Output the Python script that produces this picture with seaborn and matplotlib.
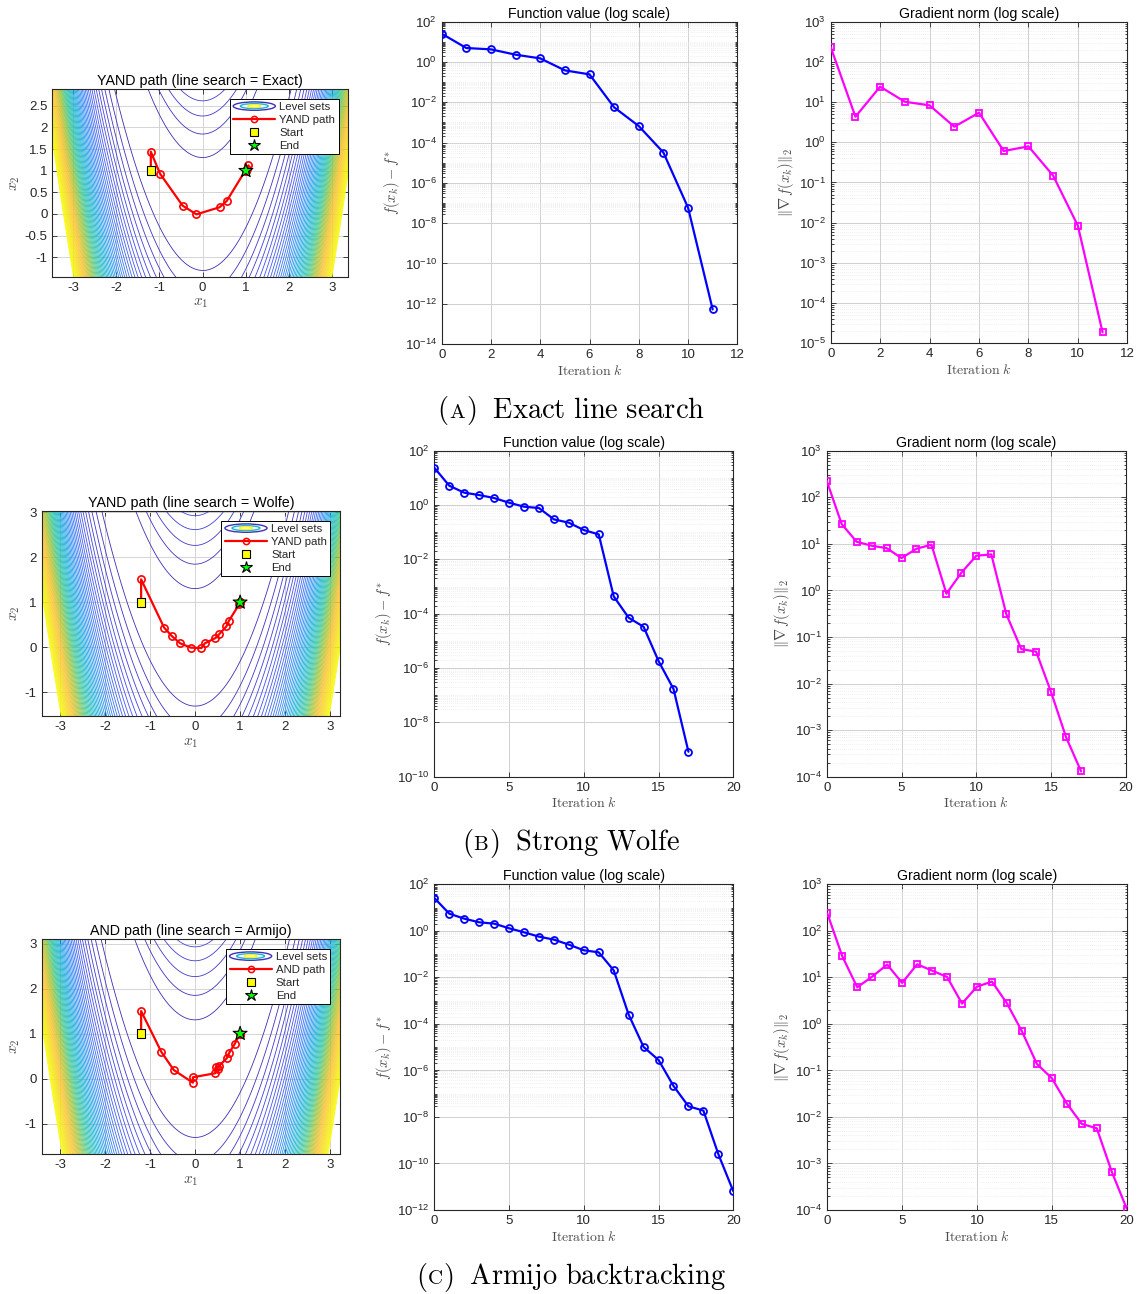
import numpy as np
import pandas as pd
import seaborn as sns
import matplotlib
matplotlib.use("Agg")
import matplotlib.pyplot as plt
from matplotlib.colors import LinearSegmentedColormap
from matplotlib.ticker import FixedLocator, NullFormatter, LogFormatterSciNotation
from matplotlib.lines import Line2D
from matplotlib.patches import Ellipse
from matplotlib.legend_handler import HandlerBase
from matplotlib.offsetbox import TextArea, HPacker, AnnotationBbox

# ------------------------------------------------------------------
# Iterates of the three runs on the Rosenbrock function
# ------------------------------------------------------------------
exact_x1 = [-1.2, -1.2, -0.985, -0.466, -0.145, 0.39, 0.557, 1.06, 1.024, 1.005, 1.0, 1.0]
exact_x2 = [1.0, 1.44, 0.93, 0.194, -0.008, 0.155, 0.302, 1.124, 1.049, 1.01, 1.0, 1.0]
exact_f = [25.4, 4.93, 4.24, 2.30, 1.51, 0.384, 0.243, 5.6e-3, 6.6e-4, 3.2e-5, 5.9e-8, 5.2e-13]
exact_g = [234, 4.33, 24.2, 10.2, 8.3, 2.44, 5.45, 0.607, 0.792, 0.148, 8.4e-3, 1.87e-5]

wolfe_x1 = [-1.2, -1.2, -0.689, -0.519, -0.333, -0.096, 0.141, 0.215, 0.452, 0.533,
            0.696, 0.748, 0.985, 0.998, 1.0, 1.0, 1.0, 1.0]
wolfe_x2 = [1.0, 1.51, 0.437, 0.252, 0.089, -0.007, -0.015, 0.089, 0.207, 0.289,
            0.467, 0.585, 0.965, 0.995, 1.0, 1.0, 1.0, 1.0]
wolfe_f = [23.7, 5.15, 2.85, 2.33, 1.81, 1.22, 0.87, 0.776, 0.297, 0.224, 0.120, 0.083,
           4.35e-4, 7.1e-5, 3.3e-5, 1.8e-6, 1.7e-7, 8.3e-10]
wolfe_g = [227, 26.6, 11.1, 9.1, 8.1, 4.95, 7.87, 9.58, 0.849, 2.40, 5.56, 5.94,
           0.310, 0.055, 0.0483, 6.46e-3, 6.98e-4, 1.3e-4]

armijo_x1 = [-1.2, -1.2, -0.755, -0.474, -0.05, -0.05, 0.45, 0.46, 0.50, 0.52, 0.70,
             0.75, 0.88, 0.99, 1.0, 1.0, 1.0, 1.0, 1.0, 1.0, 1.0]
armijo_x2 = [1.0, 1.5, 0.60, 0.19, -0.09, 0.03, 0.12, 0.25, 0.22, 0.27, 0.45,
             0.56, 0.77, 0.98, 1.0, 1.0, 1.0, 1.0, 1.0, 1.0, 1.0]
armijo_f = [25.9, 5.48, 3.34, 2.33, 2.04, 1.29, 0.865, 0.563, 0.419, 0.255, 0.146,
            0.119, 0.0201, 2.5e-4, 1.02e-5, 2.8e-6, 2.15e-7, 2.87e-8, 1.87e-8,
            2.5e-10, 6.4e-12]
armijo_g = [238, 28.4, 6.12, 10.4, 18.8, 7.59, 19.1, 13.96, 10.2, 2.73, 6.33, 8.09,
            2.77, 0.693, 0.138, 0.0678, 0.0194, 7.08e-3, 5.71e-3, 6.68e-4, 1.07e-4]

path_titles = ["YAND path (line search = Exact)",
               "YAND path (line search = Wolfe)",
               "AND path (line search = Armijo)"]
path_labels = ["YAND path", "YAND path", "AND path"]
caption_letters = ["A", "B", "C"]
caption_texts = ["Exact line search", "Strong Wolfe", "Armijo backtracking"]

# contour levels of f(x) = 100 (x2 - x1^2)^2 + (1 - x1)^2
LEVEL_TOP = 10800.0
N_LEVELS = 63

# ------------------------------------------------------------------
# Style
# ------------------------------------------------------------------
sns.set_theme(style="ticks")
plt.rcParams["font.family"] = ["Liberation Sans", "DejaVu Sans"]
plt.rcParams["mathtext.fontset"] = "cm"
plt.rcParams["axes.unicode_minus"] = False

INK = (0.15, 0.15, 0.15)
LABEL_INK = (0.3, 0.3, 0.3)

parula = LinearSegmentedColormap.from_list("parula", [
    (0 / 63, (0.2422, 0.1504, 0.6603)),
    (7 / 63, (0.2810, 0.3228, 0.9579)),
    (15 / 63, (0.1786, 0.5289, 0.9682)),
    (23 / 63, (0.0689, 0.6948, 0.8394)),
    (31 / 63, (0.2161, 0.7843, 0.5923)),
    (39 / 63, (0.6720, 0.7793, 0.2227)),
    (47 / 63, (0.9970, 0.7659, 0.2199)),
    (55 / 63, (0.9606, 0.8932, 0.1426)),
    (63 / 63, (0.9769, 0.9839, 0.0805)),
])

W, H = 1141, 1294
fig = plt.figure(figsize=(W / 100, H / 100), dpi=100)
fig.patch.set_facecolor("white")


def px_axes(l, t, r, b):
    return fig.add_axes([l / W, 1 - b / H, (r - l) / W, (b - t) / H])


def style_axes(ax):
    for s in ax.spines.values():
        s.set_color(INK)
        s.set_linewidth(0.8)
    ax.tick_params(which="both", direction="in", top=True, right=True,
                   colors=INK, labelcolor=INK, width=0.6)
    ax.tick_params(which="major", length=3.5, labelsize=9.5)
    ax.tick_params(which="minor", length=1.8)
    ax.set_axisbelow(True)
    ax.set_facecolor("white")


class LevelSetHandler(HandlerBase):
    def create_artists(self, legend, orig_handle, xdescent, ydescent,
                       width, height, fontsize, trans):
        cx = width / 2 - xdescent
        cy = height / 2 - ydescent
        out = []
        for fw, fh, col in [(1.0, 1.05, parula(0.03)), (0.66, 0.62, parula(0.40)),
                            (0.30, 0.34, parula(0.97))]:
            e = Ellipse((cx, cy), width * fw, height * fh, fill=False,
                        edgecolor=col, linewidth=1.0, transform=trans)
            out.append(e)
        return out


# contour field
g1 = np.linspace(-3.6, 3.5, 900)
g2 = np.linspace(-1.8, 3.2, 650)
G1, G2 = np.meshgrid(g1, g2)
Z = 100.0 * (G2 - G1 ** 2) ** 2 + (1.0 - G1) ** 2
levels = np.linspace(0.0, LEVEL_TOP, N_LEVELS + 1)[1:]

paths = [(exact_x1, exact_x2), (wolfe_x1, wolfe_x2), (armijo_x1, armijo_x2)]
fvals = [exact_f, wolfe_f, armijo_f]
gvals = [exact_g, wolfe_g, armijo_g]

contour_rects = [(52.3, 89, 348.3, 276.7), (41.7, 511, 340, 716), (41.7, 939, 340, 1154.3)]
contour_lims = [((-3.48, 3.37), (-1.45, 2.89)), ((-3.41, 3.22), (-1.526, 3.03)),
                ((-3.41, 3.22), (-1.68, 3.10))]
contour_yticks = [np.arange(-1, 2.51, 0.5), np.arange(-1, 3.1, 1), np.arange(-1, 3.1, 1)]

f_rects = [(441.7, 21.7, 737.3, 344), (434.3, 450.7, 733.3, 776.7), (434.3, 884.3, 733.3, 1210)]
g_rects = [(830.7, 21.7, 1127.3, 343.3), (826.7, 450.7, 1126, 776.7), (827.3, 884.3, 1126.7, 1210)]
f_ylims = [(-14, 2), (-10, 2), (-12, 2)]
g_ylims = [(-5, 3), (-4, 3), (-4, 3)]
xmaxes = [12, 20, 20]
xsteps = [2, 5, 5]
caption_y = [410, 843, 1277]

for i in range(3):
    # ---------------- path over level sets ----------------
    ax = px_axes(*contour_rects[i])
    style_axes(ax)
    ax.contour(G1, G2, Z, levels=levels, cmap=parula, vmin=0.0, vmax=LEVEL_TOP,
               linewidths=0.6)
    px1, px2 = paths[i]
    path_df = pd.DataFrame({"x1": px1, "x2": px2})
    sns.lineplot(data=path_df, x="x1", y="x2", sort=False, estimator=None, ax=ax,
                 color="red", linewidth=1.6, marker="o", markersize=5.2,
                 markerfacecolor="none", markeredgecolor="red", mew=1.2, zorder=4)
    ends = pd.DataFrame({"x1": [px1[0], px1[-1]], "x2": [px2[0], px2[-1]],
                         "kind": ["Start", "End"]})
    sns.scatterplot(data=ends, x="x1", y="x2", style="kind",
                    markers={"Start": "s", "End": "*"}, hue="kind",
                    palette={"Start": "yellow", "End": (0, 1, 0)},
                    size="kind", sizes={"Start": 38, "End": 110},
                    edgecolor="black", linewidth=0.8, ax=ax, zorder=5, legend=False)
    ax.set_xlim(*contour_lims[i][0])
    ax.set_ylim(*contour_lims[i][1])
    ax.xaxis.set_major_locator(FixedLocator(np.arange(-3, 3.1, 1)))
    ax.yaxis.set_major_locator(FixedLocator(contour_yticks[i]))
    ax.set_xticklabels([f"{v:g}" for v in np.arange(-3, 3.1, 1)])
    ax.set_yticklabels([f"{v:g}" for v in contour_yticks[i]])
    ax.grid(True, which="major", color="#d4d4d4", linewidth=0.7)
    ax.set_title(path_titles[i], fontsize=10.3, color="black", pad=3)
    ax.set_xlabel(r"$x_1$", fontsize=11, color=LABEL_INK, labelpad=2)
    ax.set_ylabel(r"$x_2$", fontsize=11, color=LABEL_INK, labelpad=2)

    handles = [
        Line2D([], []),
        Line2D([], [], color="red", linewidth=1.6, marker="o", markersize=4.5,
               markerfacecolor="none", markeredgecolor="red", mew=1.1),
        Line2D([], [], linestyle="none", marker="s", markersize=5.2,
               markerfacecolor="yellow", markeredgecolor="black", mew=0.8),
        Line2D([], [], linestyle="none", marker="*", markersize=9,
               markerfacecolor=(0, 1, 0), markeredgecolor="black", mew=0.8),
    ]
    leg = ax.legend(handles, ["Level sets", path_labels[i], "Start", "End"],
                    handler_map={handles[0]: LevelSetHandler()},
                    loc="upper right", fontsize=8.2, frameon=True, fancybox=False,
                    framealpha=1.0, edgecolor="black", borderaxespad=0.85,
                    handlelength=3.7, handletextpad=0.35, labelspacing=0.25,
                    borderpad=0.3)
    leg.get_frame().set_linewidth(0.7)
    leg.set_zorder(10)

    # ---------------- function value and gradient norm ----------------
    k = np.arange(len(fvals[i]))
    for rect, vals, ylim, colr, mk, ms, title, ylab in [
        (f_rects[i], fvals[i], f_ylims[i], "blue", "o", 5.0, "Function value (log scale)",
         r"$f(x_k) - f^{*}$"),
        (g_rects[i], gvals[i], g_ylims[i], "magenta", "s", 4.4, "Gradient norm (log scale)",
         r"$\Vert\nabla\, f(x_k)\Vert_2$"),
    ]:
        a = px_axes(*rect)
        style_axes(a)
        a.set_yscale("log")
        df = pd.DataFrame({"k": k, "v": vals})
        sns.lineplot(data=df, x="k", y="v", ax=a, color=colr, linewidth=1.6, marker=mk,
                     markersize=ms, markerfacecolor="none", markeredgecolor=colr,
                     mew=1.3, estimator=None, sort=False, zorder=4)
        lo, hi = ylim
        a.set_ylim(10.0 ** lo, 10.0 ** hi)
        a.set_xlim(0, xmaxes[i])
        a.xaxis.set_major_locator(FixedLocator(np.arange(0, xmaxes[i] + 0.1, xsteps[i])))
        a.set_xticklabels([f"{v:g}" for v in np.arange(0, xmaxes[i] + 0.1, xsteps[i])])
        step = 2 if colr == "blue" else 1
        majors = 10.0 ** np.arange(lo, hi + 1, step)
        minors = [m * 10.0 ** e for e in range(lo, hi) for m in range(1, 10)
                  if not np.any(np.isclose(m * 10.0 ** e, majors))]
        a.yaxis.set_major_locator(FixedLocator(majors))
        a.yaxis.set_minor_locator(FixedLocator(minors))
        a.yaxis.set_major_formatter(LogFormatterSciNotation())
        a.yaxis.set_minor_formatter(NullFormatter())
        a.grid(True, which="major", color="#d0d0d0", linewidth=0.7)
        a.grid(True, which="minor", axis="y", color="#e3e3e3", linewidth=0.5,
               linestyle=(0, (1, 2)))
        a.set_title(title, fontsize=10.2, color="black", pad=3)
        a.set_xlabel(r"$\mathrm{Iteration}\ k$", fontsize=10, color=LABEL_INK, labelpad=2)
        a.set_ylabel(ylab, fontsize=10.5, color=LABEL_INK, labelpad=2)

    # ---------------- caption ----------------
    big = dict(fontsize=20.5, color="black")
    small = dict(fontsize=15, color="black")
    parts = [TextArea(r"$\mathrm{(}$", textprops=big),
             TextArea(r"$\mathrm{" + caption_letters[i] + "}$", textprops=small),
             TextArea(r"$\mathrm{)}$", textprops=big),
             TextArea(r"$\mathrm{\ \ " + caption_texts[i].replace(" ", r"\ ") + "}$",
                      textprops=big)]
    box = HPacker(children=parts, align="baseline", pad=0, sep=0)
    ab = AnnotationBbox(box, (571 / W, 1 - caption_y[i] / H), xycoords="figure fraction",
                        frameon=False, box_alignment=(0.5, 0.5))
    fig.add_artist(ab)

fig.savefig("out.png", dpi=100, facecolor="white")
